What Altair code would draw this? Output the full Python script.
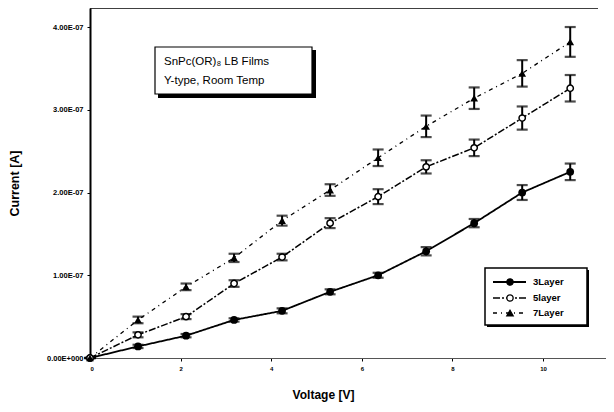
import altair as alt
import pandas as pd

# ---- data (current in units of 1e-7 A) ----
voltage = [0, 1.06, 2.12, 3.18, 4.24, 5.3, 6.36, 7.42, 8.48, 9.54, 10.6]
cur_3 = [0, 0.14, 0.27, 0.46, 0.57, 0.80, 1.00, 1.29, 1.63, 2.00, 2.25]
err_3 = [0, 0.02, 0.02, 0.02, 0.03, 0.03, 0.03, 0.05, 0.05, 0.09, 0.10]
cur_5 = [0, 0.28, 0.50, 0.90, 1.22, 1.63, 1.95, 2.31, 2.54, 2.90, 3.26]
err_5 = [0, 0.03, 0.03, 0.04, 0.04, 0.06, 0.09, 0.08, 0.10, 0.14, 0.16]
cur_7 = [0, 0.46, 0.86, 1.21, 1.66, 2.03, 2.42, 2.80, 3.14, 3.44, 3.82]
err_7 = [0, 0.04, 0.04, 0.05, 0.06, 0.07, 0.10, 0.13, 0.13, 0.16, 0.18]
series_names = ["3Layer", "5layer", "7Layer"]
x_ticks = [0, 2, 4, 6, 8, 10]
y_ticks = [0, 1, 2, 3, 4]
box_lines = ["SnPc(OR)\u2088 LB Films", "Y-type,  Room Temp"]

rows = []
for name, cur, err in zip(series_names, [cur_3, cur_5, cur_7], [err_3, err_5, err_7]):
    for v, c, e in zip(voltage, cur, err):
        rows.append({"V": v, "I": c, "lo": c - e, "hi": c + e, "s": name})
df = pd.DataFrame(rows)

W, H = 516, 350
xs = alt.Scale(domain=[0, 11.39], nice=False, zero=False)
ys = alt.Scale(domain=[0, 4.23], nice=False, zero=False)

X = alt.X("V:Q", scale=xs, axis=alt.Axis(
    values=x_ticks, title="Voltage [V]", grid=False, labelFontSize=6, labelFontWeight="bold",
    titleFontSize=12, titleFontWeight="bold", titleFont="Liberation Sans", labelFont="Liberation Sans",
    domainColor="#555555", domainWidth=1, tickColor="black", tickSize=3, labelPadding=4,
    titleX=233, titleY=36, titleBaseline="middle"))
Y = alt.Y("I:Q", scale=ys, axis=alt.Axis(
    values=y_ticks, title="Current [A]", grid=False, labelFontSize=7.5, labelFontWeight="bold",
    labelExpr="datum.value == 0 ? '0.00E+000' : format(datum.value, '.2f') + 'E-07'",
    titleFontSize=12.5, titleFontWeight="bold", titleFont="Liberation Sans", labelFont="Liberation Sans",
    domainColor="black", domainWidth=2, tickColor="black", tickSize=3, labelPadding=4,
    titlePadding=25))

base = alt.Chart(df)
dash_map = {"3Layer": [1, 0], "5layer": [7, 2, 2, 2], "7Layer": [4, 4, 1, 4]}
width_map = {"3Layer": 1.8, "5layer": 1.5, "7Layer": 1.3}
layers = []
for name in series_names:
    sub = base.transform_filter(alt.datum.s == name)
    layers.append(sub.mark_line(color="black", strokeWidth=width_map[name], strokeDash=dash_map[name]).encode(x=X, y=Y))
    layers.append(sub.mark_rule(color="black", strokeWidth=2).encode(x="V:Q", y="lo:Q", y2="hi:Q"))
    layers.append(sub.mark_tick(orient="horizontal", color="black", size=11, thickness=2.2).encode(x="V:Q", y="lo:Q"))
    layers.append(sub.mark_tick(orient="horizontal", color="black", size=11, thickness=2.2).encode(x="V:Q", y="hi:Q"))

p3 = base.transform_filter(alt.datum.s == "3Layer").mark_point(
    shape="circle", filled=True, color="black", size=60, opacity=1).encode(x="V:Q", y="I:Q")
p5 = base.transform_filter(alt.datum.s == "5layer").mark_point(
    shape="circle", fill="white", stroke="black", strokeWidth=1.5, size=40, opacity=1, fillOpacity=1).encode(x="V:Q", y="I:Q")
p7 = base.transform_filter(alt.datum.s == "7Layer").mark_point(
    shape="triangle-up", filled=True, color="black", size=60, opacity=1).encode(x="V:Q", y="I:Q")
layers += [p3, p5, p7]

one = alt.Chart(pd.DataFrame({"a": [0]}))
# top frame line
layers.append(one.mark_rule(color="black", strokeWidth=1.5).encode(x=alt.value(0), x2=alt.value(W - 8), y=alt.value(0)))

# annotation box with shadow
layers.append(one.mark_rect(fill="black").encode(x=alt.value(68), x2=alt.value(226), y=alt.value(42), y2=alt.value(90)))
layers.append(one.mark_rect(fill="white", stroke="black", strokeWidth=1.2).encode(
    x=alt.value(65), x2=alt.value(222), y=alt.value(39), y2=alt.value(86)))
for i, t in enumerate(box_lines):
    layers.append(one.mark_text(text=t, align="left", baseline="middle", fontSize=11.5,
                                font="Liberation Sans", color="black").encode(
        x=alt.value(74), y=alt.value(54 + 19 * i)))

# legend box
layers.append(one.mark_rect(fill="black").encode(
    x=alt.value(397), x2=alt.value(499), y=alt.value(262), y2=alt.value(319)))
layers.append(one.mark_rect(fill="white", stroke="black", strokeWidth=1.5).encode(
    x=alt.value(395), x2=alt.value(497), y=alt.value(260), y2=alt.value(317)))
leg_y = [274, 290, 305]
shapes = [("circle", "black"), ("circle", "white"), ("triangle-up", "black")]
for name, ly, (shp, fl) in zip(series_names, leg_y, shapes):
    layers.append(one.mark_rule(color="black", strokeWidth=width_map[name], strokeDash=dash_map[name]).encode(
        x=alt.value(403), x2=alt.value(436), y=alt.value(ly)))
    layers.append(one.mark_point(shape=shp, fill=fl, stroke="black", strokeWidth=1.3, size=40,
                                 opacity=1, fillOpacity=1).encode(x=alt.value(420), y=alt.value(ly)))
    layers.append(one.mark_text(text=name, align="left", baseline="middle", fontSize=9.5,
                                fontWeight="bold", font="Liberation Sans", color="black").encode(
        x=alt.value(443), y=alt.value(ly)))

chart = alt.layer(*layers).properties(
    width=W, height=H,
    autosize=alt.AutoSizeParams(type="none"),
    padding={"left": 82, "top": 0, "right": 0, "bottom": 46},
    background="white",
).configure_view(stroke=None)

chart.save("out.html", embed_options={"renderer": "svg", "actions": False})
